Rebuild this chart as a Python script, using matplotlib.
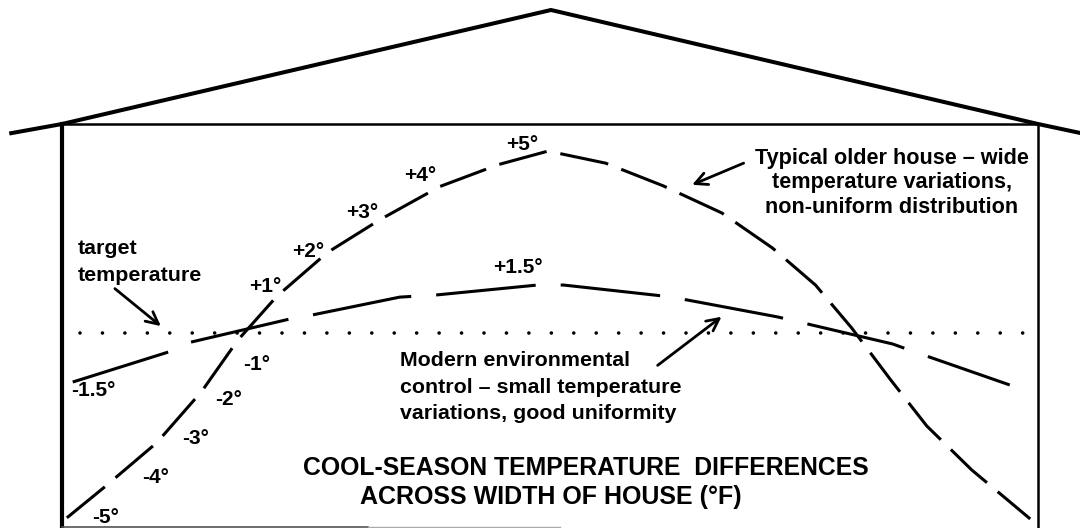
"""
Cool-season temperature differences across the width of a house.
x = position across the house (% of width, wall to wall), y = deviation from target (°F).
"""

import matplotlib
matplotlib.use("Agg")
import matplotlib.pyplot as plt

plt.rcParams["font.family"] = ["Liberation Sans", "DejaVu Sans"]
plt.rcParams["font.weight"] = "bold"
plt.rcParams["lines.scale_dashes"] = False

# typical older house: wide variations
old_x = [0.5, 4.4, 9.7, 14.3, 18.0, 22.0, 27.2, 32.6, 38.7, 44.7, 49.8,
         55.7, 61.6, 67.6, 72.8, 77.2, 80.9, 84.9, 88.6, 93.2, 99.2]
old_t = [-5.05, -4.2, -3.0, -1.6, -0.2, 1.0, 2.2, 3.1, 4.0, 4.6, 4.97,
         4.64, 4.02, 3.28, 2.32, 1.31, 0.14, -1.28, -2.54, -3.74, -5.08]

# modern environmental control: small variations
mod_x = [1.1, 10.9, 13.2, 23.3, 25.6, 34.6, 38.4, 48.7, 51.4, 61.6, 64.1,
         73.3, 85.1, 87.4, 97.1]
mod_t = [-1.34, -0.52, -0.25, 0.38, 0.49, 0.98, 1.04, 1.31, 1.31, 1.01, 0.90,
         0.44, -0.30, -0.52, -1.42]

target_t = 0.0
target_span = [1.84, 98.45]

# house outline (same units)
roof_x = [-5.2, 0.0, 50.1, 100.0, 104.4]
roof_y = [5.46, 5.71, 8.825, 5.71, 5.46]
eave_y = 5.71
floor_y = -5.3

old_labels = ["+1°", "+2°", "+3°", "+4°", "+5°", "-1°", "-2°", "-3°", "-4°", "-5°"]
old_label_pos = [(20.8, 1.26), (25.2, 2.24), (30.8, 3.28), (36.7, 4.29), (47.1, 5.14),
                 (19.9, -0.87), (17.1, -1.83), (13.7, -2.87), (9.6, -3.96), (4.5, -5.03)]
mod_labels = ["-1.5°", "+1.5°"]
mod_label_pos = [(3.2, -1.58), (46.7, 1.80)]

fig = plt.figure(figsize=(10.8, 5.28), dpi=100)
ax = fig.add_axes([0, 0, 1, 1])
ax.set_xlim(-6.352, 104.3)
ax.set_ylim(-5.328, 9.098)
ax.axis("off")

# house
ax.plot(roof_x, roof_y, color="black", lw=2.9, solid_joinstyle="miter")
ax.plot([0, 100], [eave_y, eave_y], color="black", lw=1.8)
ax.plot([0, 0], [eave_y, -5.4], color="black", lw=3.0)
ax.plot([100, 100], [eave_y, -5.4], color="black", lw=1.8)
ax.plot([0, 31.4], [floor_y, floor_y], color="#555555", lw=1.2)
ax.plot([31.4, 51.0], [floor_y, floor_y], color="#aaaaaa", lw=1.0)

# target line
ax.plot(target_span, [target_t, target_t], color="black", lw=2.6,
        linestyle=(0, (0.01, 16.15)), dash_capstyle="round")

# curves
ax.plot(old_x, old_t, color="black", lw=2.2, linestyle=(0, (35.3, 10.1)))
ax.plot(mod_x, mod_t, color="black", lw=2.2, linestyle=(0, (72, 18)))

for lab, (x, y) in zip(old_labels + mod_labels, old_label_pos + mod_label_pos):
    ax.text(x, y, lab, fontsize=15, fontweight="bold", ha="center", va="center")

# annotations
arrow = dict(arrowstyle="->", lw=2.0, color="black", mutation_scale=22)
ax.annotate("", xy=(10.35, 0.14), xytext=(5.2, 1.26), arrowprops=arrow)
ax.annotate("", xy=(64.3, 4.02), xytext=(70.1, 4.67), arrowprops=arrow)
ax.annotate("", xy=(67.8, 0.49), xytext=(60.8, -0.93), arrowprops=arrow)

for txt, y in zip(["target", "temperature"], [2.32, 1.58]):
    ax.text(1.64, y, txt, fontsize=15.4, ha="left", va="center")

for txt, y in zip(["Typical older house – wide", "temperature variations,",
                   "non-uniform distribution"], [4.78, 4.10, 3.44]):
    ax.text(85.0, y, txt, fontsize=15.6, ha="center", va="center")

for txt, y in zip(["Modern environmental", "control – small temperature",
                   "variations, good uniformity"], [-0.74, -1.48, -2.19]):
    ax.text(34.6, y, txt, fontsize=15.4, ha="left", va="center")

ax.text(24.7, -3.69, "COOL-SEASON TEMPERATURE  DIFFERENCES", fontsize=17.8,
        ha="left", va="center")
ax.text(30.5, -4.48, "ACROSS WIDTH OF HOUSE (°F)", fontsize=18.0,
        ha="left", va="center")

fig.savefig("out.png", dpi=100)
